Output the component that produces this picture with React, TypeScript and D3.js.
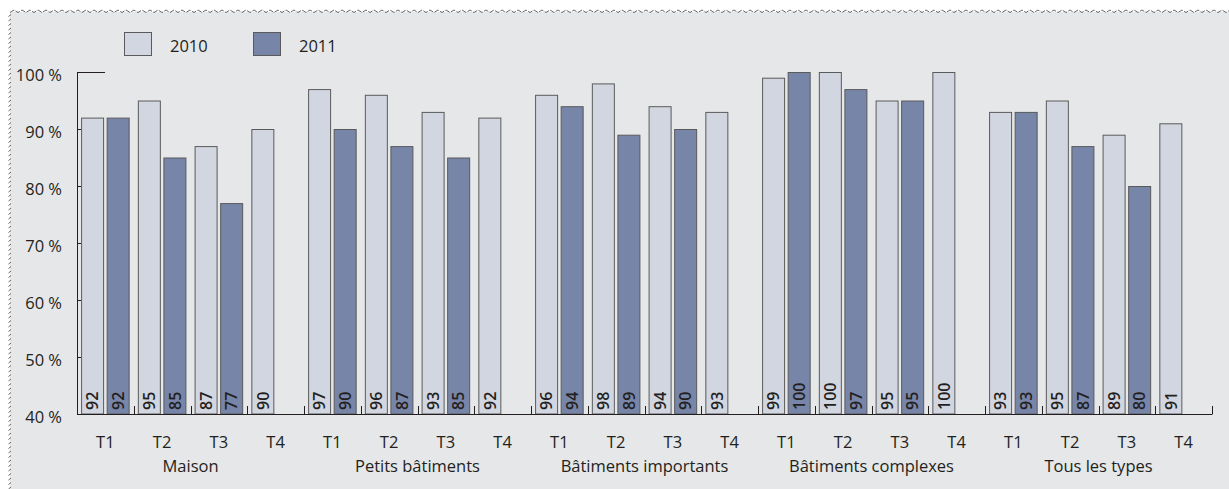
import React from "react";
import * as d3 from "d3";

const groups = ["Maison", "Petits bâtiments", "Bâtiments importants", "Bâtiments complexes", "Tous les types"];
const quarters = ["T1", "T2", "T3", "T4"];
const seriesNames = ["2010", "2011"];
const values2010 = [
  [92, 95, 87, 90],
  [97, 96, 93, 92],
  [96, 98, 94, 93],
  [99, 100, 95, 100],
  [93, 95, 89, 91],
];
const values2011 = [
  [92, 85, 77, null],
  [90, 87, 85, null],
  [94, 89, 90, null],
  [100, 97, 95, null],
  [93, 87, 80, null],
];
const yTicks = [40, 50, 60, 70, 80, 90, 100];

const W = 1229;
const H = 489;
const FONT = "'Open Sans', 'DejaVu Sans', sans-serif";
const BG = "#e6e7e9";
const COLORS = ["#d2d6e1", "#7785a8"];
const STROKE = "#5a5a5a";
const TEXT = "#231f20";
const LABEL_SIZE = 16.5;

type Cell = { key: string; group: number; q: number; v: (number | null)[] };

export default function App() {
  const margin = { left: 77, right: 17, top: 72, bottom: 75 };
  const x0 = margin.left;
  const x1 = W - margin.right;
  const yTop = margin.top;
  const yBase = H - margin.bottom;

  const cells: Cell[] = [];
  groups.forEach((g, gi) =>
    quarters.forEach((q, qi) =>
      cells.push({ key: `${gi}-${qi}`, group: gi, q: qi, v: [values2010[gi][qi], values2011[gi][qi]] })
    )
  );

  const x = d3.scaleBand<string>().domain(cells.map((c) => c.key)).range([x0, x1]).padding(0);
  const xs = d3
    .scaleBand<string>()
    .domain(seriesNames)
    .range([0, x.bandwidth()])
    .paddingInner(0.1)
    .paddingOuter(0.16);
  const y = d3.scaleLinear().domain([40, 100]).range([yBase, yTop]);

  // decorative torn edges along the top and left of the panel
  const topEdge = d3.range(10, W + 6, 4).map((px, i) => [px, i % 2 === 0 ? 12.5 : 10] as [number, number]);
  const leftMarks = d3.range(15, H, 4.5);

  const groupW = x.step() * quarters.length;

  return (
    <svg
      width={W}
      height={H}
      style={{ position: "absolute", left: 0, top: 0, display: "block" }}
      fontFamily={FONT}
    >
      <rect x={0} y={0} width={W} height={H} fill="#ffffff" />
      <rect x={10} y={12} width={W - 10} height={H - 12} fill={BG} />
      <path
        d={d3.line()(topEdge) || ""}
        fill="none"
        stroke="#555"
        strokeWidth={0.9}
        strokeDasharray="5 1.5"
      />
      {leftMarks.map((py, i) => (
        <line key={i} x1={8.5} y1={py + 1.5} x2={11} y2={py - 0.5} stroke="#555" strokeWidth={0.9} />
      ))}

      {/* legend */}
      {seriesNames.map((s, i) => (
        <g key={s} transform={`translate(${124 + i * 129},32)`}>
          <rect x={0.5} y={0.5} width={27} height={23} fill={COLORS[i]} stroke={STROKE} strokeWidth={1} />
          <text x={46} y={19.5} fontSize={LABEL_SIZE} fill={TEXT}>
            {s}
          </text>
        </g>
      ))}

      {/* bars */}
      {cells.map((c) => (
        <g key={c.key} transform={`translate(${x(c.key)},0)`}>
          {c.v.map((v, si) => {
            if (v == null) return null;
            const bx = xs(seriesNames[si])!;
            const bw = xs.bandwidth();
            return (
              <g key={si}>
                <rect
                  x={bx + 0.5}
                  y={y(v) + 0.5}
                  width={bw - 1}
                  height={yBase - y(v) - 0.5}
                  fill={COLORS[si]}
                  stroke={STROKE}
                  strokeWidth={1}
                />
                <text
                  transform={`translate(${bx + bw / 2},${yBase - 4}) rotate(-90)`}
                  dy="0.36em"
                  fontSize={16}
                  fontWeight={600}
                  fill={TEXT}
                >
                  {v}
                </text>
              </g>
            );
          })}
        </g>
      ))}

      {/* y axis */}
      <line x1={x0 + 0.5} x2={x0 + 0.5} y1={yTop} y2={yBase} stroke="#231f20" strokeWidth={1} />
      <line x1={x0} x2={x0 + 28} y1={y(100) + 0.5} y2={y(100) + 0.5} stroke="#231f20" strokeWidth={1} />
      {yTicks.map((t) => (
        <g key={t}>
          {t > 40 && t < 100 && (
            <line x1={x0} x2={x0 + 4} y1={y(t) + 0.5} y2={y(t) + 0.5} stroke="#231f20" strokeWidth={1} />
          )}
          <text x={62} y={y(t) + 9} textAnchor="end" fontSize={LABEL_SIZE} fill={TEXT}>
            {`${t}\u00a0%`}
          </text>
        </g>
      ))}

      {/* x axis baseline and separators */}
      <line x1={x0} x2={x1 + 0.5} y1={yBase + 0.5} y2={yBase + 0.5} stroke="#231f20" strokeWidth={1} />
      {cells.map((c) => {
        const bx = Math.round(x(c.key)! + x.step()) + 0.5;
        return <line key={c.key} x1={bx} x2={bx} y1={yBase - 8} y2={yBase} stroke="#231f20" strokeWidth={1} />;
      })}

      {/* category labels */}
      {cells.map((c) => (
        <text
          key={c.key}
          x={x(c.key)! + x.bandwidth() / 2}
          y={yBase + 34}
          textAnchor="middle"
          fontSize={LABEL_SIZE}
          fill={TEXT}
        >
          {quarters[c.q]}
        </text>
      ))}
      {groups.map((g, gi) => (
        <text
          key={g}
          x={x0 + groupW * gi + groupW / 2}
          y={yBase + 58}
          textAnchor="middle"
          fontSize={LABEL_SIZE}
          fill={TEXT}
        >
          {g}
        </text>
      ))}
    </svg>
  );
}
